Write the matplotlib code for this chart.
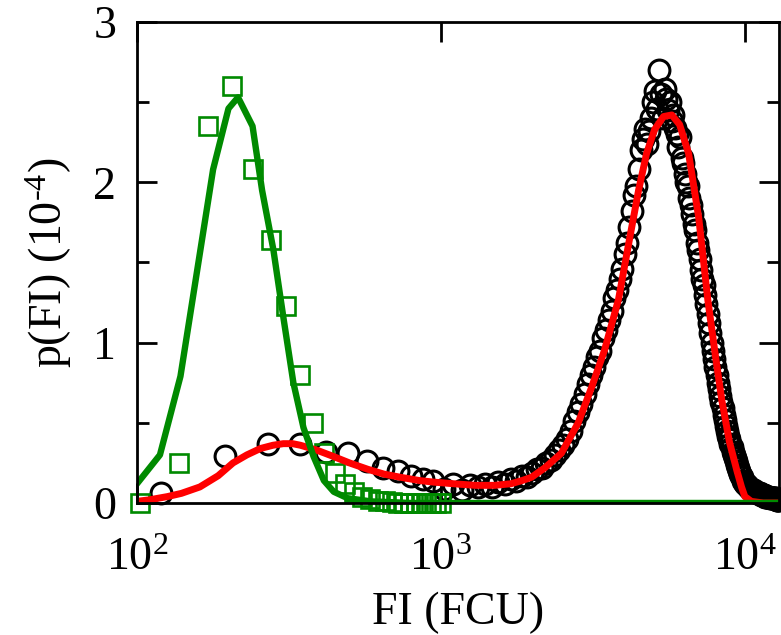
import matplotlib
matplotlib.use("Agg")
import matplotlib.pyplot as plt
from matplotlib.ticker import MultipleLocator, FixedLocator

# bright population, histogram (circles) and fit (red)
fi_bright = [120, 195, 270, 345, 420, 495, 570, 645, 720, 795,
             870, 945, 1020, 1095, 1170, 1245, 1320, 1395, 1470, 1545,
             1620, 1695, 1770, 1845, 1920, 1995, 2070, 2145, 2220, 2295,
             2370, 2445, 2520, 2595, 2670, 2745, 2820, 2895, 2970, 3045,
             3120, 3195, 3270, 3345, 3420, 3495, 3570, 3645, 3720, 3795,
             3870, 3945, 4020, 4095, 4170, 4245, 4320, 4395, 4470, 4545,
             4620, 4695, 4770, 4845, 4920, 4995, 5070, 5145, 5220, 5295,
             5370, 5445, 5520, 5595, 5670, 5745, 5820, 5895, 5970, 6045,
             6120, 6195, 6270, 6345, 6420, 6495, 6570, 6645, 6720, 6795,
             6870, 6945, 7020, 7095, 7170, 7245, 7320, 7395, 7470, 7545,
             7620, 7695, 7770, 7845, 7920, 7995, 8070, 8145, 8220, 8295,
             8370, 8445, 8520, 8595, 8670, 8745, 8820, 8895, 8970, 9045,
             9120, 9195, 9270, 9345, 9420, 9495, 9570, 9645, 9720, 9795,
             9870, 9945, 10020, 10095, 10170, 10245, 10320, 10395, 10470, 10545,
             10620, 10695, 10770, 10845, 10920, 10995, 11070, 11145, 11220, 11295,
             11370, 11445, 11520, 11595, 11670, 11745, 11820, 11895, 11970, 12045,
             12120, 12195, 12270, 12345, 12420, 12495, 12570, 12645, 12720, 12795,
             12870, 12945]
p_bright = [0.06, 0.29, 0.37, 0.37, 0.32, 0.31, 0.26, 0.22, 0.20, 0.17,
            0.15, 0.14, 0.09, 0.12, 0.08, 0.11, 0.10, 0.12, 0.10, 0.13,
            0.12, 0.15, 0.14, 0.17, 0.16, 0.19, 0.21, 0.22, 0.25, 0.27,
            0.30, 0.33, 0.36, 0.40, 0.45, 0.51, 0.57, 0.62, 0.68, 0.74,
            0.80, 0.85, 0.91, 0.95, 1.03, 1.08, 1.14, 1.20, 1.28, 1.33,
            1.40, 1.46, 1.55, 1.62, 1.72, 1.82, 1.92, 1.98, 2.08, 2.20,
            2.27, 2.33, 2.24, 2.32, 2.40, 2.50, 2.57, 2.46, 2.70, 2.55,
            2.40, 2.58, 2.52, 2.45, 2.50, 2.38, 2.42, 2.34, 2.30, 2.22,
            2.28, 2.15, 2.12, 2.05, 2.00, 1.98, 1.90, 1.86, 1.80, 1.74,
            1.70, 1.62, 1.58, 1.52, 1.45, 1.40, 1.36, 1.30, 1.24, 1.18,
            1.12, 1.06, 1.00, 0.95, 0.90, 0.85, 0.80, 0.75, 0.71, 0.67,
            0.63, 0.59, 0.55, 0.52, 0.48, 0.45, 0.42, 0.40, 0.37, 0.35,
            0.32, 0.30, 0.28, 0.26, 0.24, 0.22, 0.20, 0.18, 0.17, 0.16,
            0.14, 0.13, 0.12, 0.12, 0.11, 0.10, 0.10, 0.09, 0.09, 0.08,
            0.08, 0.08, 0.07, 0.07, 0.07, 0.06, 0.06, 0.06, 0.06, 0.05,
            0.05, 0.05, 0.05, 0.05, 0.04, 0.04, 0.04, 0.04, 0.04, 0.04,
            0.03, 0.03, 0.03, 0.03, 0.03, 0.03, 0.03, 0.03, 0.02, 0.02,
            0.02, 0.02]

fit_bright_x = [100, 110, 126, 140, 161, 185, 207, 230, 255, 280, 303, 325,
                345, 390, 443, 500, 575, 650, 738, 850, 948, 1100, 1300,
                1500, 1700, 1850, 1985, 2200, 2490, 2830, 3130, 3450, 3840,
                4150, 4470, 4750, 5050, 5400, 5750, 6100, 6530, 7050, 7550,
                8000, 8400, 8900, 9420, 9750, 10000, 10500, 11500, 13000]
fit_bright_y = [0.01, 0.02, 0.04, 0.06, 0.10, 0.17, 0.25, 0.30, 0.34, 0.36,
                0.37, 0.37, 0.36, 0.33, 0.29, 0.25, 0.21, 0.18, 0.16, 0.14,
                0.13, 0.12, 0.11, 0.11, 0.12, 0.14, 0.16, 0.22, 0.31, 0.50,
                0.72, 0.95, 1.27, 1.62, 1.95, 2.18, 2.33, 2.41, 2.42, 2.36,
                2.18, 1.78, 1.27, 0.92, 0.64, 0.38, 0.20, 0.10, 0.04, 0.01,
                0.0, 0.0]

# dim population, histogram (squares) and fit (green)
fi_dim = [102, 137, 171, 206, 240, 275, 309, 344, 378, 413, 447, 482, 516,
          551, 585, 620, 654, 689, 723, 758, 792, 827, 861, 896, 930, 965, 999]
p_dim = [0.0, 0.25, 2.35, 2.60, 2.08, 1.64, 1.23, 0.80, 0.50, 0.31, 0.19,
         0.12, 0.07, 0.04, 0.025, 0.015, 0.01, 0.005, 0.0, 0.0, 0.0, 0.0,
         0.0, 0.0, 0.0, 0.0, 0.0]

fit_dim_x = [100, 119, 139, 178, 200, 215, 240, 258, 281, 303, 327, 353,
             381, 412, 444, 493, 588, 800, 13000]
fit_dim_y = [0.12, 0.30, 0.79, 2.08, 2.46, 2.53, 2.35, 1.95, 1.58, 1.16,
             0.75, 0.47, 0.29, 0.14, 0.07, 0.03, 0.01, 0.0, 0.0]

GREEN = "#008a00"


def fi_plot(ax):
    ax.plot(fi_bright, p_bright, "o", mfc="none", mec="black", ms=15,
            mew=2.2, clip_on=False, zorder=2)
    ax.plot(fi_dim, p_dim, "s", mfc="none", mec=GREEN, ms=12.5, mew=1.9,
            clip_on=False, zorder=2.5)
    ax.plot(fit_bright_x, fit_bright_y, "-", color="red", lw=5.0, zorder=3)
    ax.plot(fit_dim_x, fit_dim_y, "-", color=GREEN, lw=4.6, zorder=4)
    return


def main():
    plt.rcParams["font.family"] = "Liberation Serif"
    plt.rcParams["mathtext.fontset"] = "custom"
    plt.rcParams["mathtext.rm"] = "Liberation Serif"
    plt.rcParams["mathtext.it"] = "Liberation Serif:italic"

    fig = plt.figure(figsize=(7.81, 6.35), dpi=100)
    ax = fig.add_axes([0.1754, 0.2079, 0.8220, 0.7575])
    fi_plot(ax)

    ax.set_xscale("log")
    ax.set_xlim(100, 12950)
    ax.set_ylim(0, 3)
    ax.xaxis.set_major_locator(FixedLocator([1e2, 1e3, 1e4]))
    ax.xaxis.set_minor_locator(FixedLocator([]))
    ax.yaxis.set_major_locator(MultipleLocator(1))
    ax.yaxis.set_minor_locator(MultipleLocator(0.5))
    ax.tick_params(which="both", direction="in", top=True, right=True,
                   width=2.0, labelsize=33)
    ax.tick_params(which="major", length=14.5)
    ax.tick_params(which="minor", length=8.5)
    ax.tick_params(axis="x", which="major", pad=25)
    ax.tick_params(axis="y", which="major", pad=15)
    for sp in ax.spines.values():
        sp.set_linewidth(2.0)
        sp.set_zorder(10)

    ax.set_xlabel("FI (FCU)", fontsize=33, labelpad=8)
    ax.set_ylabel(r"p(FI) (10$^{\text{-}4}$)", fontsize=33, labelpad=14)
    fig.savefig("out.png", dpi=100)
    return


if __name__ == "__main__":
    main()
